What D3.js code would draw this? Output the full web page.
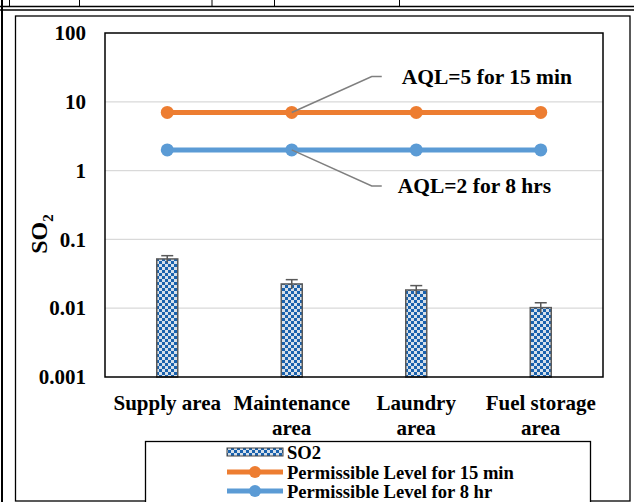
<!DOCTYPE html>
<html>
<head>
<meta charset="utf-8">
<script src="https://cdn.jsdelivr.net/npm/d3@7"></script>
<style>
  body { margin: 0; background: #fff; }
  svg text { font-family: "Liberation Serif", "Times New Roman", serif; font-weight: bold; fill: #000; }
</style>
</head>
<body>
<div id="chart"></div>
<script>
// data
const categories = ["Supply area", "Maintenance area", "Laundry area", "Fuel storage area"];
const categoryLines = [["Supply area"], ["Maintenance", "area"], ["Laundry", "area"], ["Fuel storage", "area"]];
const so2Values = [0.052, 0.0225, 0.0184, 0.0102];
const so2Errors = [0.006, 0.0035, 0.0029, 0.0018];
const level15min = [7, 7, 7, 7];
const level8hr = [2, 2, 2, 2];
const yTicks = [100, 10, 1, 0.1, 0.01, 0.001];
const yTickLabels = ["100", "10", "1", "0.1", "0.01", "0.001"];
const legendLabels = ["SO2", "Permissible Level for 15 min", "Permissible Level for 8 hr"];

const W = 634, H = 502;
const plot = {left: 105, right: 603, top: 33, bottom: 377};

const svg = d3.select("#chart").append("svg")
    .attr("width", W)
    .attr("height", H);

// checker pattern for the bars
const defs = svg.append("defs");
const pat = defs.append("pattern")
    .attr("id", "checker")
    .attr("patternUnits", "userSpaceOnUse")
    .attr("width", 6)
    .attr("height", 6);
pat.append("rect").attr("width", 6).attr("height", 6).attr("fill", "#d6e0ea");
pat.append("rect").attr("width", 3).attr("height", 3).attr("fill", "#1a62ad");
pat.append("rect").attr("x", 3).attr("y", 3).attr("width", 3).attr("height", 3).attr("fill", "#1a62ad");

// page / table lines around the chart
const page = svg.append("g").attr("stroke", "#000").attr("fill", "none");
page.append("line").attr("x1", 0).attr("x2", W).attr("y1", 6.5).attr("y2", 6.5).attr("stroke-width", 1.5);
page.append("line").attr("x1", 0).attr("x2", W).attr("y1", 10).attr("y2", 10).attr("stroke-width", 1.5);
[9.5, 79.5, 212, 274.5, 399.5].forEach(x => {
    page.append("line").attr("x1", x).attr("x2", x).attr("y1", 0).attr("y2", 6).attr("stroke-width", 1);
});
page.append("line").attr("x1", 2).attr("x2", 2).attr("y1", 0).attr("y2", H).attr("stroke-width", 2);
page.append("rect").attr("x", 15.5).attr("y", 16).attr("width", 614.5).attr("height", 485).attr("stroke-width", 1.3);

// scales
const x = d3.scaleBand()
    .domain(categories)
    .range([plot.left, plot.right]);

const y = d3.scaleLog()
    .domain([0.001, 100])
    .range([plot.bottom, plot.top]);

// gridlines
svg.append("g")
    .selectAll("line")
    .data(yTicks.slice(1, -1))
    .join("line")
    .attr("x1", plot.left)
    .attr("x2", plot.right)
    .attr("y1", d => y(d))
    .attr("y2", d => y(d))
    .attr("stroke", "#d9d9d9")
    .attr("stroke-width", 1.3);

// y axis
const yAxis = svg.append("g")
    .attr("transform", `translate(${plot.left},0)`)
    .call(d3.axisLeft(y).tickValues(yTicks).tickSize(0).tickPadding(19)
        .tickFormat((d, i) => yTickLabels[i]));
yAxis.select(".domain").remove();
yAxis.selectAll("text")
    .style("font-family", "Liberation Serif")
    .style("font-weight", "bold")
    .style("font-size", "21px")
    .attr("fill", "#000");

// y axis title
const yTitle = svg.append("text")
    .attr("transform", "translate(47,234) rotate(-90)")
    .attr("text-anchor", "middle")
    .style("font-size", "24px");
yTitle.append("tspan").text("SO");
yTitle.append("tspan").attr("dy", 6).style("font-size", "15px").text("2");

// category labels
const xLab = svg.append("g")
    .selectAll("text")
    .data(categories)
    .join("text")
    .attr("text-anchor", "middle")
    .attr("x", d => x(d) + x.bandwidth() / 2)
    .attr("y", plot.bottom + 33)
    .style("font-size", "21px");
xLab.selectAll("tspan")
    .data((d, i) => categoryLines[i])
    .join("tspan")
    .attr("x", function () { return d3.select(this.parentNode).attr("x"); })
    .attr("dy", (d, i) => i === 0 ? 0 : 25)
    .text(d => d);

// bars
const barW = 21;
svg.append("g")
    .selectAll("rect")
    .data(so2Values)
    .join("rect")
    .attr("x", (d, i) => x(categories[i]) + x.bandwidth() / 2 - barW / 2)
    .attr("y", d => y(d))
    .attr("width", barW)
    .attr("height", d => plot.bottom - y(d))
    .attr("fill", "url(#checker)")
    .attr("stroke", "#5a5a5a")
    .attr("stroke-width", 1.5);

// error bars
const err = svg.append("g").attr("stroke", "#595959").attr("stroke-width", 1.5);
so2Values.forEach((v, i) => {
    const cx = x(categories[i]) + x.bandwidth() / 2;
    err.append("line").attr("x1", cx).attr("x2", cx)
        .attr("y1", y(v + so2Errors[i])).attr("y2", y(v - so2Errors[i]));
    err.append("line").attr("x1", cx - 6).attr("x2", cx + 6)
        .attr("y1", y(v + so2Errors[i])).attr("y2", y(v + so2Errors[i]));
});

// plot frame
svg.append("rect")
    .attr("x", plot.left)
    .attr("y", plot.top)
    .attr("width", plot.right - plot.left)
    .attr("height", plot.bottom - plot.top)
    .attr("fill", "none")
    .attr("stroke", "#000")
    .attr("stroke-width", 1.5);

// permissible level lines
const levels = [
    {values: level15min, color: "#ed7d31"},
    {values: level8hr, color: "#5b9bd5"}
];
const line = d3.line()
    .x((d, i) => x(categories[i]) + x.bandwidth() / 2)
    .y(d => y(d));
levels.forEach(s => {
    svg.append("path")
        .datum(s.values)
        .attr("d", line)
        .attr("fill", "none")
        .attr("stroke", s.color)
        .attr("stroke-width", 5);
    svg.append("g")
        .selectAll("circle")
        .data(s.values)
        .join("circle")
        .attr("cx", (d, i) => x(categories[i]) + x.bandwidth() / 2)
        .attr("cy", d => y(d))
        .attr("r", 6.5)
        .attr("fill", s.color);
});

// annotations
const ax = x(categories[1]) + x.bandwidth() / 2;
const notes = [
    {text: "AQL=5 for 15 min", y0: y(level15min[1]), dy: -36, tx: 110},
    {text: "AQL=2 for 8 hrs", y0: y(level8hr[1]), dy: 36, tx: 106}
];
notes.forEach(n => {
    svg.append("polyline")
        .attr("points", `${ax},${n.y0} ${ax + 80},${n.y0 + n.dy} ${ax + 90},${n.y0 + n.dy}`)
        .attr("fill", "none")
        .attr("stroke", "#7f7f7f")
        .attr("stroke-width", 1.5);
    svg.append("text")
        .attr("x", ax + n.tx)
        .attr("y", n.y0 + n.dy)
        .attr("dy", "0.35em")
        .style("font-size", "21.5px")
        .text(n.text);
});

// legend
const lg = svg.append("g");
lg.append("rect")
    .attr("x", 145.5).attr("y", 441.5)
    .attr("width", 445).attr("height", 70)
    .attr("fill", "#fff").attr("stroke", "#000").attr("stroke-width", 1.3);
const rowY = [452, 472, 491];
const sw0 = 227, sw1 = 283;
lg.append("rect")
    .attr("x", sw0).attr("y", rowY[0] - 4)
    .attr("width", sw1 - sw0).attr("height", 8)
    .attr("fill", "url(#checker)").attr("stroke", "#444").attr("stroke-width", 1);
levels.forEach((s, i) => {
    lg.append("line")
        .attr("x1", sw0).attr("x2", sw1)
        .attr("y1", rowY[i + 1]).attr("y2", rowY[i + 1])
        .attr("stroke", s.color).attr("stroke-width", 5);
    lg.append("circle")
        .attr("cx", (sw0 + sw1) / 2).attr("cy", rowY[i + 1])
        .attr("r", 6).attr("fill", s.color);
});
lg.selectAll("text.leg")
    .data(legendLabels)
    .join("text")
    .attr("class", "leg")
    .attr("x", sw1 + 4)
    .attr("y", (d, i) => rowY[i])
    .attr("dy", "0.35em")
    .style("font-size", "18.6px")
    .text(d => d);
</script>
</body>
</html>
